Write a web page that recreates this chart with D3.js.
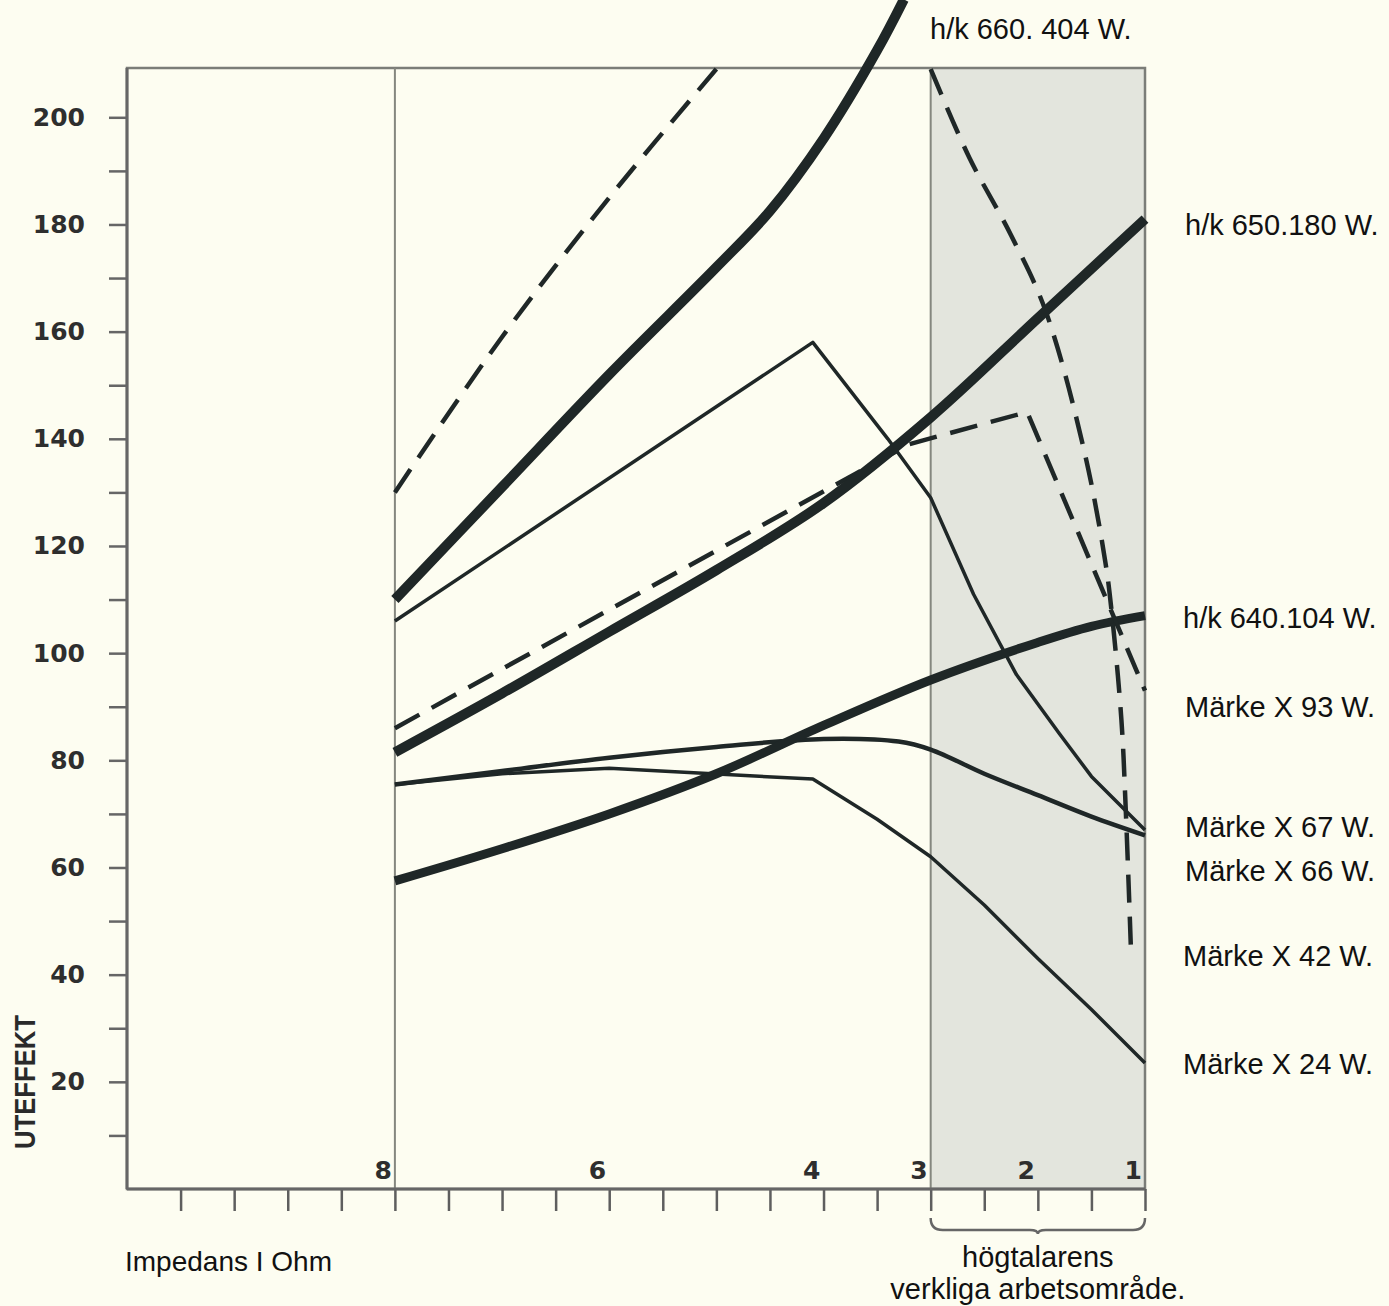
<!DOCTYPE html>
<html>
<head>
<meta charset="utf-8">
<script src="https://cdnjs.cloudflare.com/ajax/libs/d3/7.8.5/d3.min.js"></script>
<style>
  body { margin: 0; background: #fdfdf1; }
  svg { display: block; }
</style>
</head>
<body>
<div id="chart"></div>
<script>
// Impedance (ohm) tick marks and labels along the bottom
var ohmTicks = [10, 9.5, 9, 8.5, 8, 7.5, 7, 6.5, 6, 5.5, 5, 4.5, 4, 3.5, 3, 2.5, 2, 1.5, 1];
var ohmLabels = [8, 6, 4, 3, 2, 1];
// Output power ticks (W)
var wattTicks = [10, 20, 30, 40, 50, 60, 70, 80, 90, 100, 110, 120, 130, 140, 150, 160, 170, 180, 190, 200];
var wattLabels = [20, 40, 60, 80, 100, 120, 140, 160, 180, 200];

// Series, [ohm, watt]; null = runs off the top of the chart
var hk660 = [[8, 110], [7, 131], [6, 152], [5, 172], [4.5, 182.5], [4, 196], [3.5, 212.5], [3.25, 222]];
var hk650 = [[8, 81.5], [7, 92.5], [6, 104], [5, 115.5], [4, 128], [3, 144], [2, 162.5], [1, 181]];
var hk640 = [[8, 57.5], [7, 63.5], [6, 70], [5, 77.5], [4, 86.5], [3, 95], [2, 102], [1.5, 105], [1, 107]];
var mx93 = [[8, 86], [3.7, 133.5], [3.2, 139], [2.1, 145], [1, 93]];
var mx67 = [[8, 106], [4.1, 158], [3.4, 140], [3, 129], [2.6, 111], [2.2, 96], [1.8, 85], [1.5, 77], [1, 67]];
var mx66 = [[8, 75.5], [7, 78], [6, 80.5], [5, 82.5], [4, 84], [3.3, 83.5], [3, 82], [2.5, 77.5], [2, 73.5], [1.5, 69.5], [1, 66]];
var mx42 = [[8, 130], [7, 159], [6, 185], [5, 209], [4, null], [3, 209], [2.64, 192.5], [2.25, 178], [1.93, 164],
            [1.57, 138], [1.37, 117], [1.31, 107.5], [1.22, 87.5], [1.18, 71], [1.13, 44]];
var mx24 = [[8, 75.5], [7, 77.5], [6, 78.5], [4.1, 76.5], [3.5, 69], [3, 62], [2.5, 53], [2, 43], [1.5, 33.5], [1, 23.5]];

var seriesNames = ["h/k 660. 404 W.", "h/k 650.180 W.", "h/k 640.104 W.", "Märke X 93 W.",
                   "Märke X 67 W.", "Märke X 66 W.", "Märke X 42 W.", "Märke X 24 W."];

var width = 1389,
    height = 1306;

var svg = d3.select("#chart").append("svg")
    .attr("width", width)
    .attr("height", height);

// plot box (note: "top" is reserved on window, so use other names)
var plotL = 127, plotR = 1145, plotT = 68, plotB = 1189;

// ohm axis runs backwards: high impedance on the left
var x = d3.scaleLinear().domain([10.5, 1]).range([plotL, plotR]);
var y = d3.scaleLinear().domain([0, 209.2]).range([plotB, plotT]);

var ink = "#1f2727";
var numFont = "bold 25px 'DejaVu Sans', sans-serif";
var textFont = "29px 'Liberation Sans', Arial, sans-serif";

svg.append("rect")
    .attr("width", width).attr("height", height)
    .attr("fill", "#fdfdf1");

// shaded "real working range" of the speaker, 3..1 ohm
svg.append("rect")
    .attr("x", x(3)).attr("y", plotT)
    .attr("width", x(1) - x(3)).attr("height", plotB - plotT)
    .attr("fill", "#e3e5dd");

// frame
svg.append("rect")
    .attr("x", plotL).attr("y", plotT)
    .attr("width", plotR - plotL).attr("height", plotB - plotT)
    .attr("fill", "none")
    .attr("stroke", "#7b7d78")
    .attr("stroke-width", 2.5);

[8, 3].forEach(function(o) {
  svg.append("line")
    .attr("x1", x(o)).attr("x2", x(o))
    .attr("y1", plotT).attr("y2", plotB)
    .attr("stroke", "#85877f")
    .attr("stroke-width", 2);
});

// axes
var yAxis = svg.append("g")
    .attr("transform", "translate(" + plotL + ",0)")
    .call(d3.axisLeft(y)
      .tickValues(wattTicks)
      .tickSize(18)
      .tickPadding(24)
      .tickFormat(function(d) { return wattLabels.indexOf(d) >= 0 ? d : ""; }));
yAxis.select(".domain").remove();
yAxis.selectAll("line").attr("stroke", "#666").attr("stroke-width", 2.5);
yAxis.selectAll("text")
    .attr("fill", "#2e2e2e")
    .style("font", numFont);

var xAxis = svg.append("g")
    .attr("transform", "translate(0," + plotB + ")")
    .call(d3.axisBottom(x)
      .tickValues(ohmTicks)
      .tickSize(22)
      .tickFormat(""));
xAxis.select(".domain").remove();
xAxis.selectAll("line").attr("stroke", "#5e5e5e").attr("stroke-width", 2.5);

svg.append("line")
    .attr("x1", plotL).attr("x2", plotR)
    .attr("y1", plotB).attr("y2", plotB)
    .attr("stroke", "#666").attr("stroke-width", 3);
svg.append("line")
    .attr("x1", plotL).attr("x2", plotL)
    .attr("y1", plotT).attr("y2", plotB)
    .attr("stroke", "#666").attr("stroke-width", 3);

// ohm labels sit inside the plot, just left of their tick
svg.selectAll(".ohm-label")
  .data(ohmLabels)
  .enter().append("text")
    .attr("class", "ohm-label")
    .attr("x", function(d) { return x(d) - 3; })
    .attr("y", plotB - 10)
    .attr("text-anchor", "end")
    .attr("fill", "#2e2e2e")
    .style("font", numFont)
    .text(function(d) { return d; });

// the curves
var smooth = d3.line()
    .defined(function(d) { return d[1] !== null; })
    .x(function(d) { return x(d[0]); })
    .y(function(d) { return y(d[1]); })
    .curve(d3.curveCatmullRom.alpha(0.5));
var straight = d3.line()
    .x(function(d) { return x(d[0]); })
    .y(function(d) { return y(d[1]); });

var curves = [
  { data: mx24, path: straight, w: 3.5, dash: null },
  { data: mx66, path: smooth, w: 4.5, dash: null },
  { data: mx67, path: straight, w: 3.5, dash: null },
  { data: hk640, path: smooth, w: 9, dash: null },
  { data: mx93, path: straight, w: 4.5, dash: "28,14" },
  { data: mx42, path: smooth, w: 4.5, dash: "28,14" },
  { data: hk650, path: smooth, w: 10, dash: null },
  { data: hk660, path: smooth, w: 10, dash: null }
];

svg.selectAll(".curve")
  .data(curves)
  .enter().append("path")
    .attr("class", "curve")
    .attr("d", function(c) { return c.path(c.data); })
    .attr("fill", "none")
    .attr("stroke", ink)
    .attr("stroke-width", function(c) { return c.w; })
    .attr("stroke-dasharray", function(c) { return c.dash; })
    .attr("stroke-linejoin", "round");

// series names at the right
var labelPos = [[930, 39], [1185, 235], [1183, 628], [1185, 717], [1185, 837], [1185, 881], [1183, 966], [1183, 1074]];
svg.selectAll(".name")
  .data(seriesNames)
  .enter().append("text")
    .attr("class", "name")
    .attr("x", function(d, i) { return labelPos[i][0]; })
    .attr("y", function(d, i) { return labelPos[i][1]; })
    .attr("fill", "#111")
    .style("font", textFont)
    .text(function(d) { return d; });

svg.append("text")
    .attr("x", 125).attr("y", 1271)
    .attr("fill", "#111")
    .style("font", "28px 'Liberation Sans', Arial, sans-serif")
    .text("Impedans I Ohm");

svg.append("text")
    .attr("transform", "translate(35,1082) rotate(-90)")
    .attr("text-anchor", "middle")
    .attr("textLength", 134)
    .attr("lengthAdjust", "spacingAndGlyphs")
    .attr("fill", "#2a2a2a")
    .style("font", "bold 30px 'Liberation Sans', Arial, sans-serif")
    .text("UTEFFEKT");

// brace under the working range
var bx0 = x(3), bx1 = x(1), bm = (bx0 + bx1) / 2, by = 1230;
svg.append("path")
    .attr("d", "M" + bx0 + "," + (by - 12) + " Q" + bx0 + "," + by + " " + (bx0 + 12) + "," + by +
               " L" + (bm - 8) + "," + by + " Q" + bm + "," + by + " " + bm + "," + (by + 4) +
               " Q" + bm + "," + by + " " + (bm + 8) + "," + by +
               " L" + (bx1 - 12) + "," + by + " Q" + bx1 + "," + by + " " + bx1 + "," + (by - 12))
    .attr("fill", "none")
    .attr("stroke", "#666")
    .attr("stroke-width", 2.5);

svg.append("text")
    .attr("x", bm).attr("y", 1267)
    .attr("text-anchor", "middle")
    .attr("fill", "#111")
    .style("font", textFont)
    .text("högtalarens");
svg.append("text")
    .attr("x", bm).attr("y", 1299)
    .attr("text-anchor", "middle")
    .attr("fill", "#111")
    .style("font", textFont)
    .text("verkliga arbetsområde.");
</script>
</body>
</html>
